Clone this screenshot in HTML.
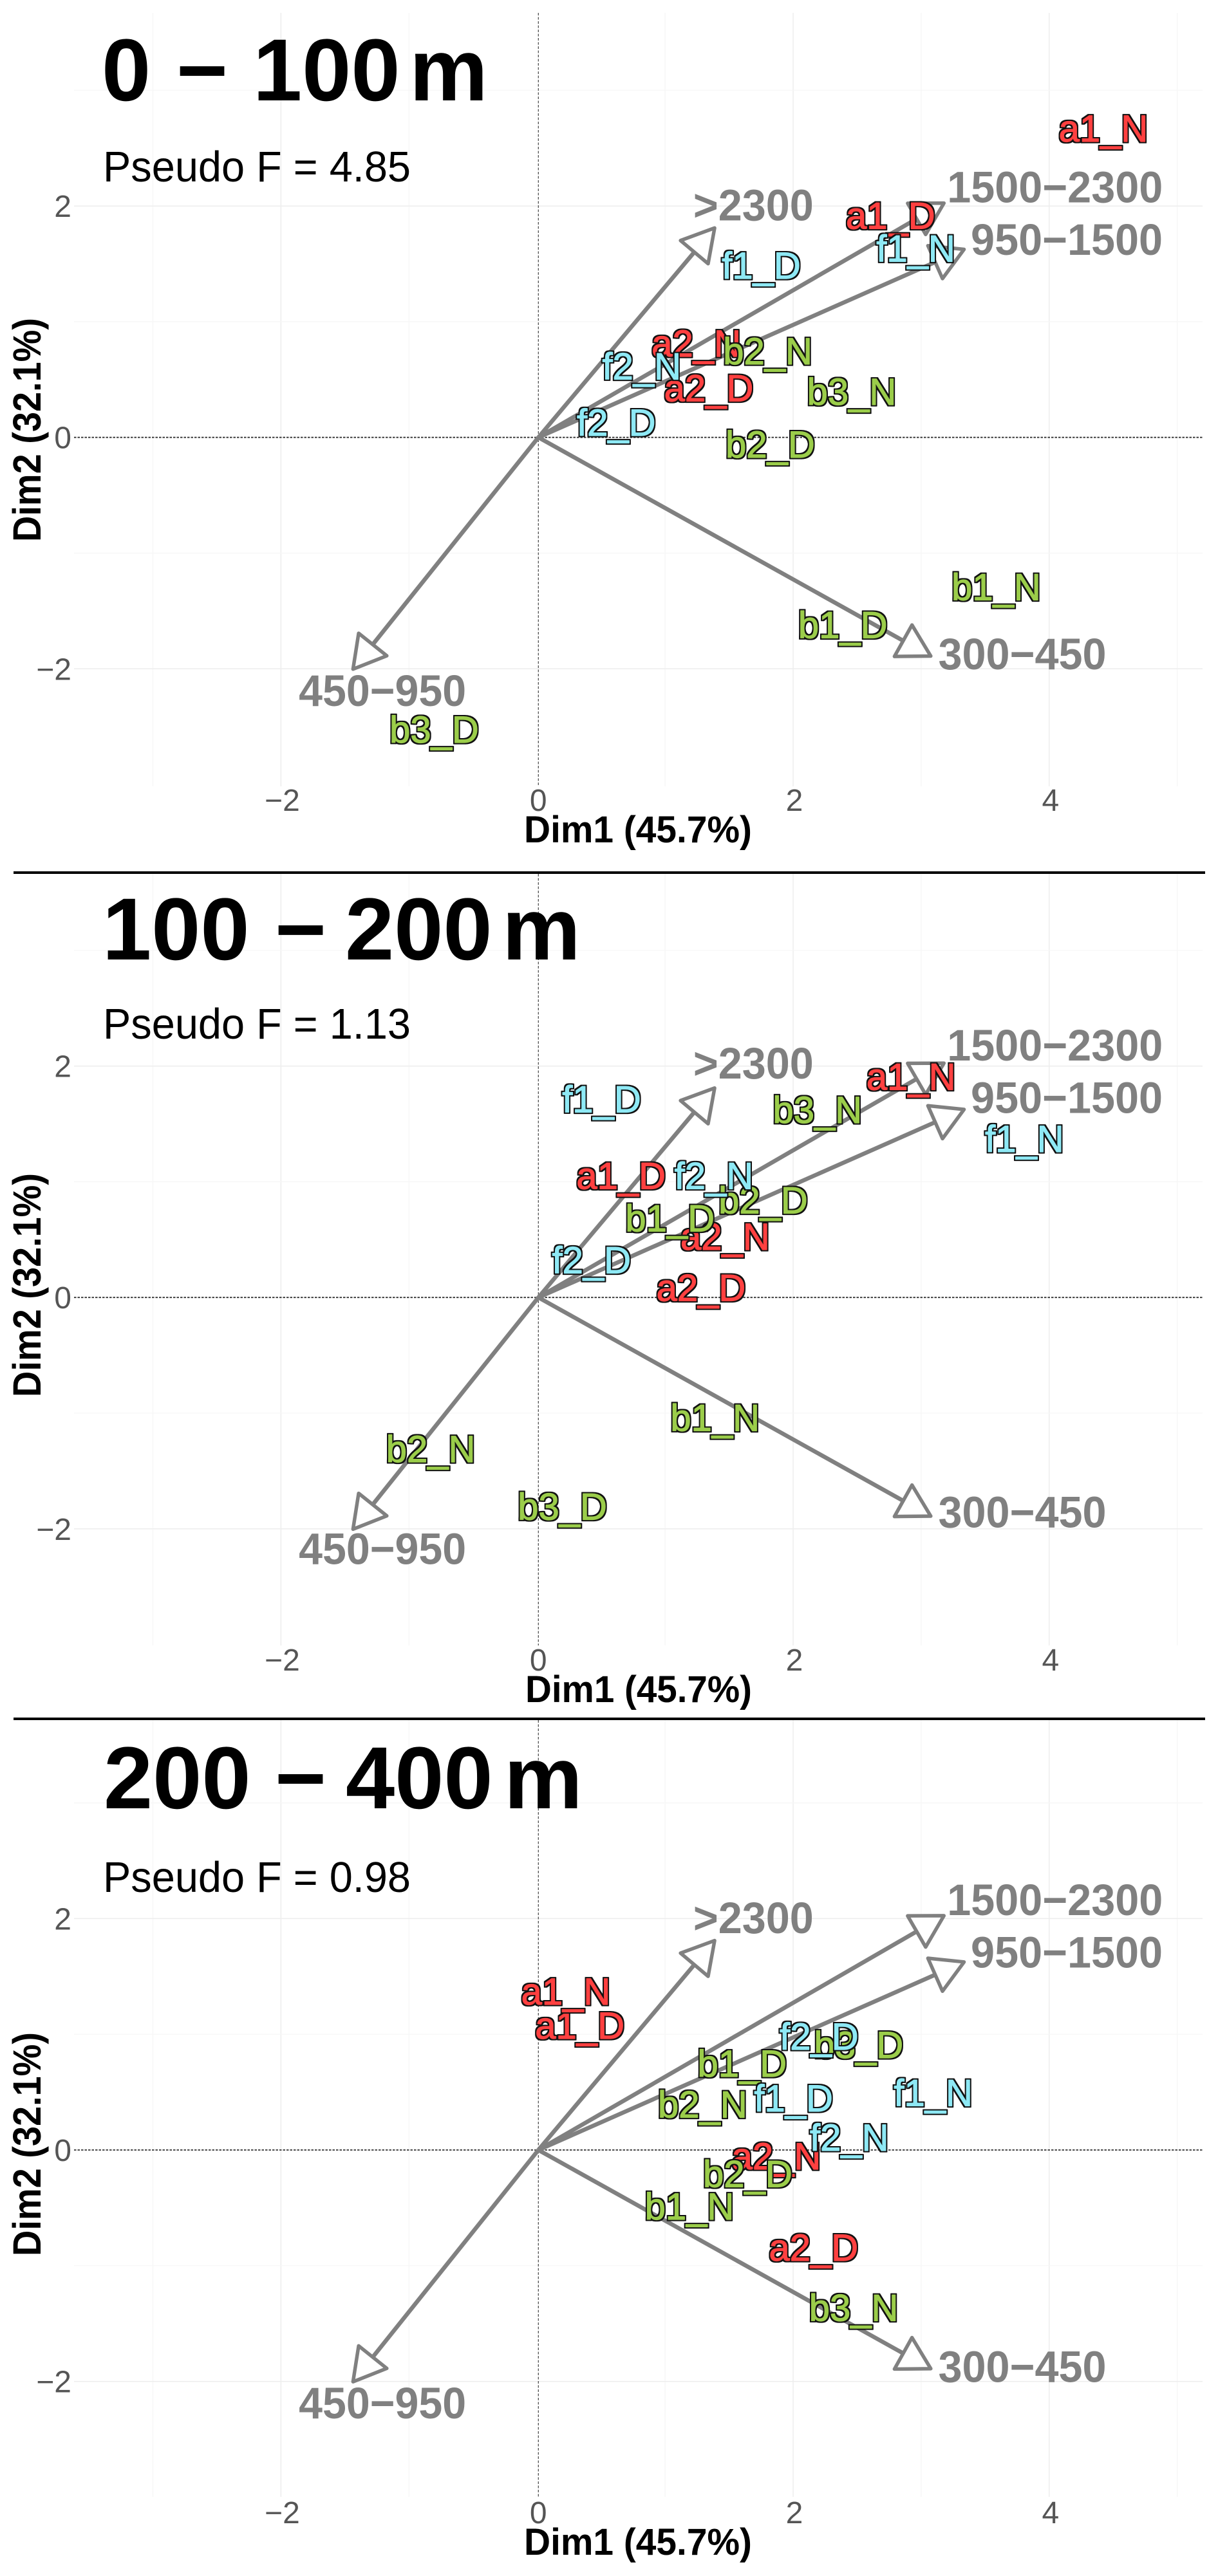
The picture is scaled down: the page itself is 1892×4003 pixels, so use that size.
<!DOCTYPE html>
<html lang="en">
<head>
<meta charset="utf-8">
<title>PCA biplots by depth</title>
<style>
html,body{margin:0;padding:0;background:#fff;}
svg{display:block;font-family:"Liberation Sans",Arial,sans-serif;}
.title{font-weight:700;font-size:137px;fill:#000;}
.pseudo{font-size:67px;fill:#000;}
.axis-title{font-weight:700;font-size:58px;fill:#000;}
.axis-title-y{font-weight:700;font-size:61px;fill:#000;}
.tick{font-size:48px;fill:#555;}
.loading{font-weight:700;font-size:69px;fill:#808080;}
.site{font-weight:400;font-size:58px;stroke-width:1.2;stroke-linejoin:round;filter:url(#site-outline);}
</style>
</head>
<body>
<svg id="chart" xmlns="http://www.w3.org/2000/svg" width="1892" height="4003" viewBox="0 0 1892 4003">
  <defs>
    <filter id="site-outline" x="-10%" y="-15%" width="120%" height="130%" color-interpolation-filters="sRGB">
      <feMorphology in="SourceAlpha" operator="dilate" radius="2.2" result="grown"/>
      <feFlood flood-color="#111" result="ink"/>
      <feComposite in="ink" in2="grown" operator="in" result="outline"/>
      <feMerge>
        <feMergeNode in="outline"/>
        <feMergeNode in="SourceGraphic"/>
      </feMerge>
    </filter>
  </defs>
  <rect x="0" y="0" width="1892" height="4003" fill="#fff"/>
  <g id="plot-0"></g>
  <g id="plot-1"></g>
  <g id="plot-2"></g>

  <rect x="21" y="1354" width="1851" height="4" fill="#000"/>
  <rect x="21" y="2669" width="1851" height="4" fill="#000"/>

  <text class="title" y="156"><tspan x="158">0</tspan><tspan x="274">−</tspan><tspan x="393">100</tspan><tspan x="636">m</tspan></text>
  <text class="pseudo" x="160" y="282" textLength="478" lengthAdjust="spacingAndGlyphs">Pseudo F = 4.85</text>
  <text class="axis-title" x="814" y="1309" textLength="354" lengthAdjust="spacingAndGlyphs">Dim1 (45.7%)</text>
  <text class="axis-title-y" text-anchor="middle" transform="translate(63,668) rotate(-90)" textLength="348" lengthAdjust="spacingAndGlyphs">Dim2 (32.1%)</text>

  <text class="title" y="1491"><tspan x="159">100</tspan><tspan x="427">−</tspan><tspan x="536">200</tspan><tspan x="780">m</tspan></text>
  <text class="pseudo" x="160" y="1614" textLength="478" lengthAdjust="spacingAndGlyphs">Pseudo F = 1.13</text>
  <text class="axis-title" x="816" y="2645" textLength="352" lengthAdjust="spacingAndGlyphs">Dim1 (45.7%)</text>
  <text class="axis-title-y" text-anchor="middle" transform="translate(63,1997) rotate(-90)" textLength="348" lengthAdjust="spacingAndGlyphs">Dim2 (32.1%)</text>

  <text class="title" y="2810"><tspan x="161">200</tspan><tspan x="427">−</tspan><tspan x="537">400</tspan><tspan x="783">m</tspan></text>
  <text class="pseudo" x="160" y="2940" textLength="478" lengthAdjust="spacingAndGlyphs">Pseudo F = 0.98</text>
  <text class="axis-title" x="814" y="3970" textLength="354" lengthAdjust="spacingAndGlyphs">Dim1 (45.7%)</text>
  <text class="axis-title-y" text-anchor="middle" transform="translate(63,3332) rotate(-90)" textLength="348" lengthAdjust="spacingAndGlyphs">Dim2 (32.1%)</text>
</svg>
<script>
// Site categories, in draw order
const siteNames = ['a1_D','a1_N','a2_D','a2_N','b1_D','b1_N','b2_D','b2_N','b3_D','b3_N','f1_D','f1_N','f2_D','f2_N'];

// Site scores per depth panel (Dim1, Dim2)
const sitesDim1_0_100 =   [2.761, 4.423, 1.341, 1.244, 2.388, 3.586, 1.821, 1.802, -0.803, 2.457, 1.751, 2.958, 0.619, 0.817];
const sitesDim2_0_100 =   [1.803, 2.557, 0.313, 0.700, -1.733, -1.405, -0.174, 0.631, -2.637, 0.283, 1.371, 1.520, 0.015, 0.502];
const sitesDim1_100_200 = [0.656, 2.921, 1.281, 1.469, 1.038, 1.390, 1.766, -0.830, 0.198, 2.190, 0.504, 3.807, 0.425, 1.381];
const sitesDim2_100_200 = [0.938, 1.796, -0.029, 0.412, 0.570, -1.154, 0.728, -1.422, -1.920, 1.508, 1.599, 1.259, 0.211, 0.938];
const sitesDim1_200_400 = [0.334, 0.225, 2.160, 1.869, 1.602, 1.190, 1.645, 1.293, 2.512, 2.473, 2.003, 3.094, 2.203, 2.439];
const sitesDim2_200_400 = [0.962, 1.258, -0.958, -0.167, 0.634, -0.600, -0.319, 0.281, 0.796, -1.477, 0.333, 0.381, 0.867, -0.005];

// Environmental loadings (same in each panel)
const loadingNames = ['>2300','1500−2300','950−1500','300−450','450−950'];
const loadingDim1 = [1.387, 3.178, 3.335, 3.075, -1.437];
const loadingDim2 = [1.810, 2.025, 1.625, -1.890, -2.003];
const loadingLabelDim1 = [1.690, 4.045, 4.137, 3.790, -1.207];
const loadingLabelDim2 = [1.875, 2.030, 1.578, -2.005, -2.320];
const loadingLabelWidths = [187, 335, 298, 261, 260];

// Axis ticks
const xTickValues = [-2, 0, 2, 4];
const yTickValues = [2, 0, -2];
const xTickLabels = ['−2', '0', '2', '4'];
const yTickLabels = ['2', '0', '−2'];
const xGridValues = [-3, -2, -1, 1, 2, 3, 4, 5];
const yGridValues = [3, 2, 1, -1, -2];

// Panel keys
const panelKeys = ['0-100m', '100-200m', '200-400m'];
const panelDim1 = [sitesDim1_0_100, sitesDim1_100_200, sitesDim1_200_400];
const panelDim2 = [sitesDim2_0_100, sitesDim2_100_200, sitesDim2_200_400];

// Layout of each panel
const layouts = [
  {y0: 679.7,  top: 20,   bottom: 1222, xTickBase: 1260, labelShift: 0},
  {y0: 2016.2, top: 1358, bottom: 2557, xTickBase: 2596, labelShift: -3},
  {y0: 3341,   top: 2673, bottom: 3880, xTickBase: 3921, labelShift: 0}
];
const X0 = 834.2, XU = 198.9, YU = 179.8, PLOT_LEFT = 115, PLOT_RIGHT = 1868, ZERO_X = 836.3;
const sx = v => X0 + XU * v;
const NS = 'http://www.w3.org/2000/svg';

function mk(tag, parent, attrs) {
  const el = document.createElementNS(NS, tag);
  for (const k in attrs) el.setAttribute(k, attrs[k]);
  parent.appendChild(el);
  return el;
}
function siteColor(name) {
  if (name[0] === 'a') return '#ff4040';
  if (name[0] === 'b') return '#9bcd4a';
  return '#8ee9f5';
}

panelKeys.forEach(function (key, p) {
  const g = document.getElementById('plot-' + p);
  const L = layouts[p];
  const sy = v => L.y0 - YU * v;

  xGridValues.forEach(function (v) {
    const major = v % 2 === 0;
    const el = mk('line', g, {x1: sx(v), x2: sx(v), y1: L.top, y2: L.bottom, stroke: major ? '#ededed' : '#f6f6f6', 'stroke-width': major ? 1.5 : 1.2});
    
    
  });
  yGridValues.forEach(function (v) {
    const major = v % 2 === 0;
    const el = mk('line', g, {x1: PLOT_LEFT, x2: PLOT_RIGHT, y1: sy(v), y2: sy(v), stroke: major ? '#ededed' : '#f6f6f6', 'stroke-width': major ? 1.5 : 1.2});
    
    
  });

  const hz = mk('line', g, {x1: PLOT_LEFT, x2: PLOT_RIGHT, y1: L.y0, y2: L.y0, stroke: '#333', 'stroke-width': 1.8, 'stroke-dasharray': '3.5 2'});
  
  
  const vz = mk('line', g, {x1: ZERO_X, x2: ZERO_X, y1: L.top, y2: L.bottom, stroke: '#444', 'stroke-width': 1.2, 'stroke-dasharray': '4 2.5'});
  
  

  xTickValues.forEach(function (v, i) {
    const t = mk('text', g, {x: sx(v) + 2, y: L.xTickBase, 'text-anchor': 'middle', class: 'tick'});
    t.textContent = xTickLabels[i];
    
    
  });
  yTickValues.forEach(function (v, i) {
    const t = mk('text', g, {x: 111, y: sy(v) + 17, 'text-anchor': 'end', class: 'tick'});
    t.textContent = yTickLabels[i];
    
    
  });

  loadingNames.forEach(function (name, i) {
    const ox = ZERO_X, oy = L.y0;
    const tx = sx(loadingDim1[i]), ty = sy(loadingDim2[i]);
    const dx = tx - ox, dy = ty - oy, len = Math.hypot(dx, dy);
    const ux = dx / len, uy = dy / len;
    const bx = tx - ux * 49, by = ty - uy * 49;
    const shaft = mk('line', g, {x1: ox, y1: oy, x2: bx, y2: by, stroke: '#808080', 'stroke-width': 6.5});
    
    
    const pts = [[tx, ty], [bx - uy * 28, by + ux * 28], [bx + uy * 28, by - ux * 28]].map(q => q.join(',')).join(' ');
    const head = mk('polygon', g, {points: pts, fill: '#fff', stroke: '#808080', 'stroke-width': 5.5, 'stroke-linejoin': 'round'});
    
    
    const lab = mk('text', g, {x: sx(loadingLabelDim1[i]), y: sy(loadingLabelDim2[i]) + L.labelShift, 'text-anchor': 'middle', class: 'loading', textLength: loadingLabelWidths[i], lengthAdjust: 'spacingAndGlyphs'});
    lab.textContent = name;
    
    
  });

  siteNames.forEach(function (name, i) {
    const t = mk('text', g, {x: sx(panelDim1[p][i]), y: sy(panelDim2[p][i]), 'text-anchor': 'middle', class: 'site', fill: siteColor(name), stroke: siteColor(name)});
    t.textContent = name;
    
    
  });
});
</script>
</body>
</html>
